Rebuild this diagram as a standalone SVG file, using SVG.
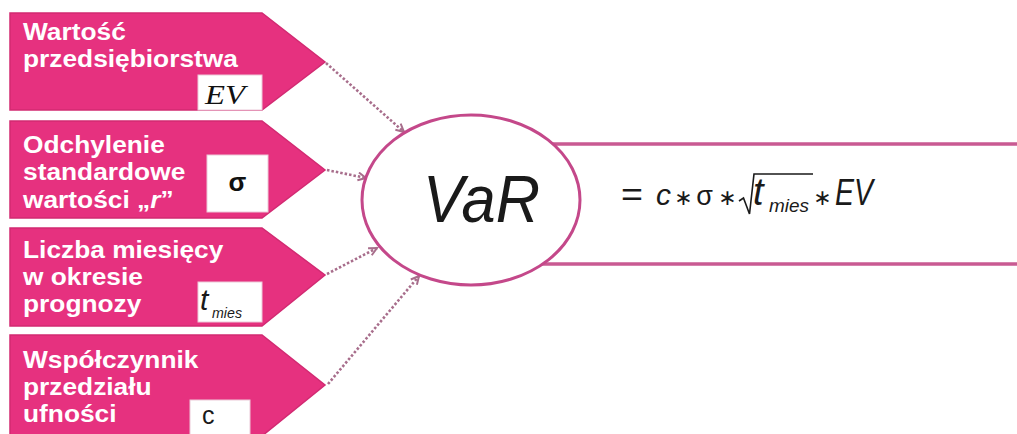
<svg xmlns="http://www.w3.org/2000/svg" width="1017" height="434" viewBox="0 0 1017 434">
<style>
.box{fill:#E6317F;stroke:#D22A72;stroke-width:1.5}
.lbl{fill:#fff;font-family:"Liberation Sans",Arial,sans-serif;font-weight:bold;font-size:23.5px}
.wbox{fill:#fff;stroke:#EBC9D8;stroke-width:1}
.conn{fill:none;stroke:#A86E8C;stroke-width:2.6;stroke-dasharray:2.5 2}
.math{fill:#1a1a1a;font-family:"Liberation Sans",Arial,sans-serif}
.ast{fill:#1a1a1a;font-family:"DejaVu Sans",sans-serif;font-size:22px;text-anchor:middle}
</style>
<defs>
<marker id="arr" markerWidth="12" markerHeight="12" refX="9" refY="5" orient="auto" markerUnits="userSpaceOnUse">
<path d="M1,1 L9,5 L1,9" fill="none" stroke="#A86E8C" stroke-width="2"/>
</marker>
</defs>
<rect width="1017" height="434" fill="#fff"/>

<g id="result">
<rect x="540" y="144" width="490" height="120" fill="#fff" stroke="#C95A92" stroke-width="3.5"/>
<text class="math" x="621" y="206" font-size="34" textLength="22" lengthAdjust="spacingAndGlyphs">=</text>
<text class="math" x="656" y="205" font-size="30" font-style="italic">c</text>
<text class="ast" x="683.5" y="205">∗</text>
<text class="math" x="704.5" y="205" font-size="27" text-anchor="middle">σ</text>
<text class="ast" x="727.5" y="205">∗</text>
<path d="M739,201 L743.5,198 L749.5,214 L754,174 L813,174" fill="none" stroke="#1a1a1a" stroke-width="1.6"/>
<text class="math" x="753" y="205" font-size="38" font-style="italic">t</text>
<text class="math" x="769" y="212" font-size="18" font-style="italic" textLength="40" lengthAdjust="spacingAndGlyphs">mies</text>
<text class="ast" x="822.5" y="205">∗</text>
<text class="math" x="835" y="205" font-size="36" font-style="italic" textLength="38" lengthAdjust="spacingAndGlyphs">EV</text>
</g>

<g id="connectors">
<line class="conn" x1="326" y1="63" x2="404" y2="132" marker-end="url(#arr)"/>
<line class="conn" x1="327" y1="170" x2="366" y2="178" marker-end="url(#arr)"/>
<line class="conn" x1="327" y1="274" x2="377" y2="248" marker-end="url(#arr)"/>
<line class="conn" x1="328" y1="384" x2="419" y2="276" marker-end="url(#arr)"/>
</g>

<g id="var">
<ellipse cx="471" cy="200" rx="109" ry="85" fill="#fff" stroke="#C4488A" stroke-width="3"/>
<text class="math" x="423" y="222" font-size="66" font-style="italic" textLength="117" lengthAdjust="spacingAndGlyphs">VaR</text>
</g>

<g id="node-ev">
<polygon class="box" points="10,13 262,13 325,62 262,110 10,110"/>
<text class="lbl" transform="translate(23 0) scale(1.12 1)"><tspan x="0" y="40">Wartość</tspan><tspan x="0" y="67">przedsiębiorstwa</tspan></text>
<rect class="wbox" x="198" y="75" width="64" height="35"/>
<text x="205" y="104" font-family="Liberation Serif,serif" font-style="italic" font-size="28" fill="#111" textLength="40" lengthAdjust="spacingAndGlyphs">EV</text>
</g>

<g id="node-sigma">
<polygon class="box" points="10,121 262,121 325,170 262,218 10,218"/>
<text class="lbl" transform="translate(23 0) scale(1.12 1)"><tspan x="0" y="153">Odchylenie</tspan><tspan x="0" y="180">standardowe</tspan><tspan x="0" y="208">wartości „<tspan font-style="italic">r</tspan>”</tspan></text>
<rect class="wbox" x="207" y="155" width="61" height="57"/>
<text x="237.5" y="191" font-family="Liberation Sans,sans-serif" font-weight="bold" font-size="26" fill="#111" text-anchor="middle">σ</text>
</g>

<g id="node-t">
<polygon class="box" points="10,228 262,228 325,275 262,326 10,326"/>
<text class="lbl" transform="translate(23 0) scale(1.12 1)"><tspan x="0" y="258">Liczba miesięcy</tspan><tspan x="0" y="285">w okresie</tspan><tspan x="0" y="312">prognozy</tspan></text>
<rect class="wbox" x="198" y="282" width="64" height="40"/>
<text class="math" x="200" y="310" font-size="30" font-style="italic">t</text>
<text class="math" x="212" y="318" font-size="15" font-style="italic" textLength="30" lengthAdjust="spacingAndGlyphs">mies</text>
</g>

<g id="node-c">
<polygon class="box" points="10,335 262,335 325,385 262,436 10,436"/>
<text class="lbl" transform="translate(23 0) scale(1.12 1)"><tspan x="0" y="368">Współczynnik</tspan><tspan x="0" y="395">przedziału</tspan><tspan x="0" y="422">ufności</tspan></text>
<rect class="wbox" x="190" y="400" width="60" height="40"/>
<text class="math" x="202" y="424" font-size="25">c</text>
</g>
</svg>
